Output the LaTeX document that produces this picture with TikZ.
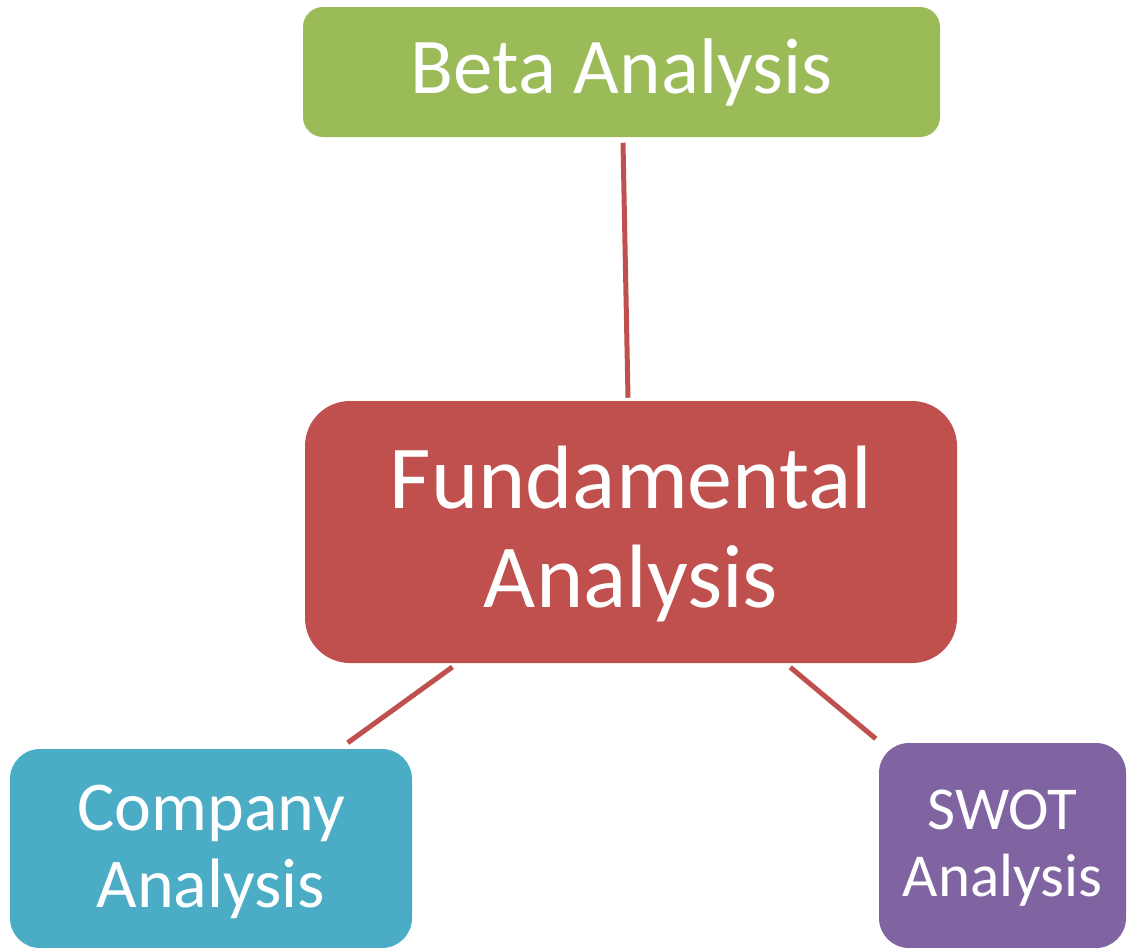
\documentclass[tikz,border=0pt]{standalone}
\usepackage{fontspec}
\setmainfont{Carlito}
\usetikzlibrary{calc}
\definecolor{betagreen}{HTML}{9BBB59}
\definecolor{fundred}{HTML}{C0504D}
\definecolor{compteal}{HTML}{4BACC6}
\definecolor{swotpurple}{HTML}{8064A2}
\begin{document}
\begin{tikzpicture}[x=0.75pt,y=-0.75pt,
  box/.style={rectangle, draw=none, inner sep=0pt},
  lbl/.style={anchor=base, text=white, inner sep=0pt},
  link/.style={draw=fundred, line width=3.75pt}]
\useasboundingbox (0,0) rectangle (1134,947);
\clip (0,0) rectangle (1134,947);

% boxes
\node[box, fill=betagreen, rounded corners=15pt,
      minimum width=477.75pt, minimum height=97.5pt] (beta) at (621.5,72) {};
\node[box, fill=fundred, rounded corners=33.75pt,
      minimum width=489pt, minimum height=196.5pt] (fund) at (631,532) {};
\node[box, fill=compteal, rounded corners=22.5pt,
      minimum width=301.5pt, minimum height=149.25pt] (comp) at (211,848.5) {};
\node[box, fill=swotpurple, rounded corners=22.5pt,
      minimum width=185.25pt, minimum height=153.75pt] (swot) at (1002.5,845.5) {};

% labels
\node[lbl, font=\fontsize{59.25pt}{65pt}\selectfont] (betatxt) at (621.5,93.5) {Beta Analysis};
\node[lbl, font=\fontsize{67.5pt}{74pt}\selectfont] (fundtxta) at (631,508) {Fundamental};
\node[lbl, font=\fontsize{67.5pt}{74pt}\selectfont] (fundtxtb) at (631,607) {Analysis};
\node[lbl, font=\fontsize{52.5pt}{58pt}\selectfont] (comptxta) at (211,830) {Company};
\node[lbl, font=\fontsize{52.5pt}{58pt}\selectfont] (comptxtb) at (211,907) {Analysis};
\node[lbl, font=\fontsize{45.75pt}{50pt}\selectfont] (swottxta) at (1002.5,829) {SWOT};
\node[lbl, font=\fontsize{45.75pt}{50pt}\selectfont] (swottxtb) at (1002.5,896.5) {Analysis};

% connectors
\draw[link] ($(beta.south)+(1.5,5.5)$) -- ($(fund.north)+(-3,-3)$);
\draw[link] ($(fund.south west)+(147.7,3.7)$) -- ($(comp.north west)+(338,-6)$);
\draw[link] ($(fund.south east)+(-167,4)$) -- ($(swot.north west)+(-3,-4)$);
\end{tikzpicture}
\end{document}
